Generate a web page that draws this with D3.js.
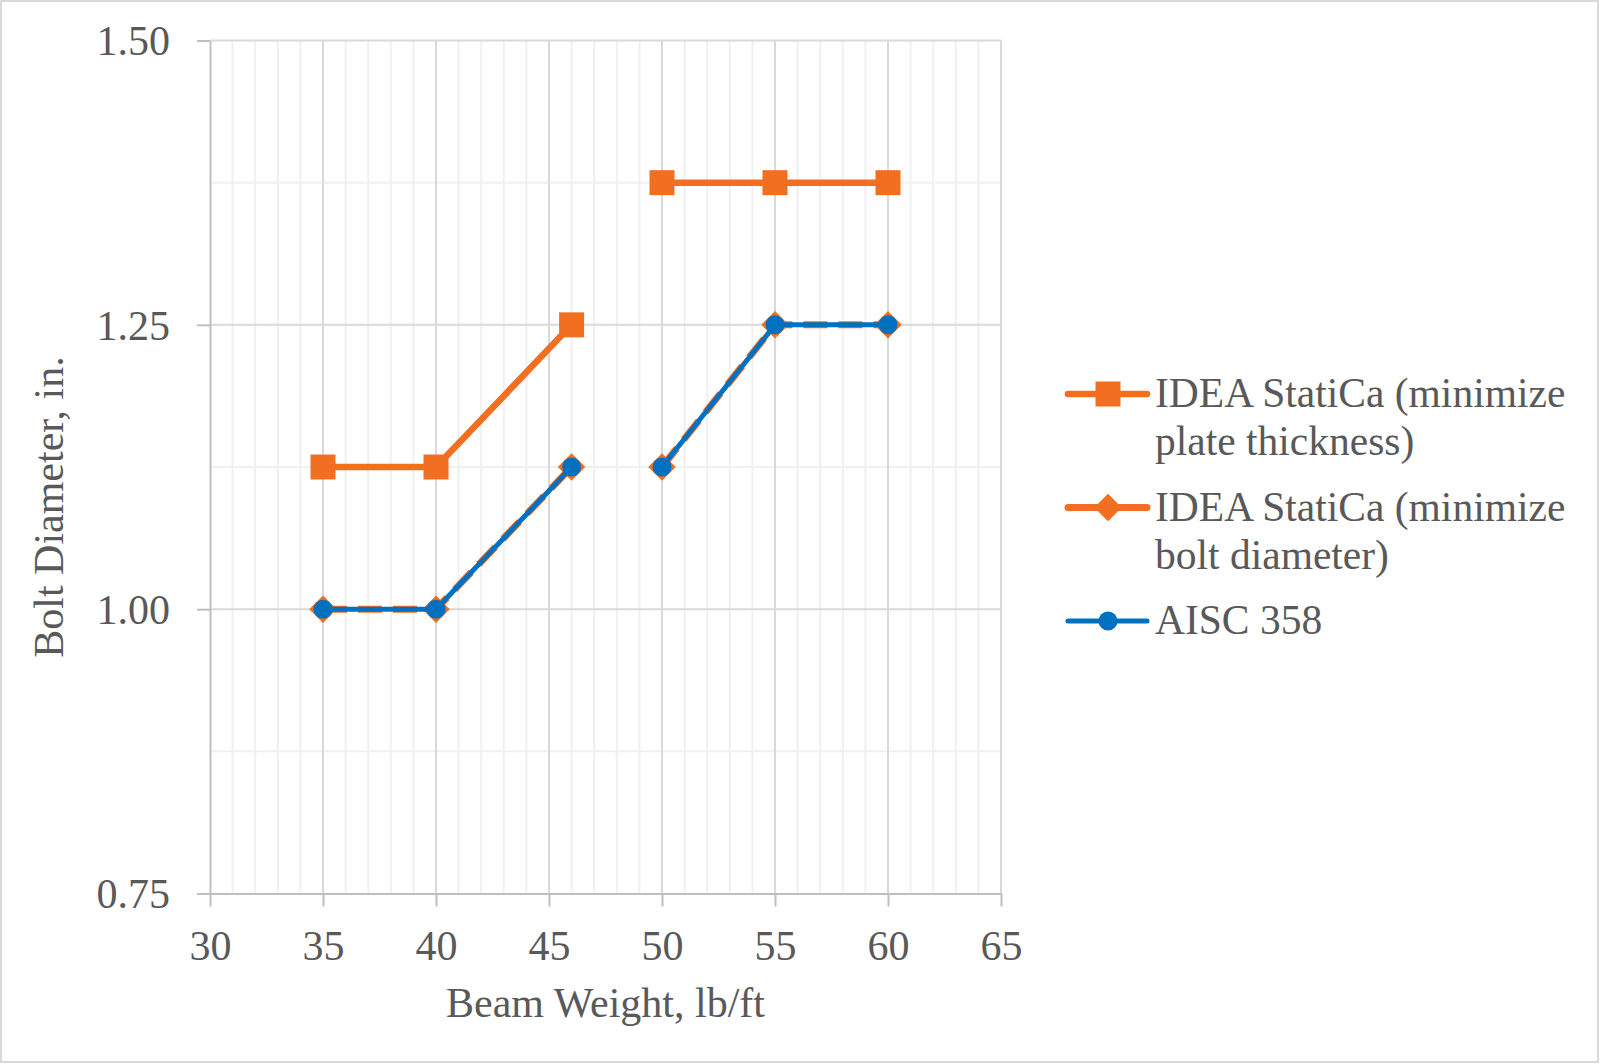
<!DOCTYPE html>
<html>
<head>
<meta charset="utf-8">
<script src="https://cdn.jsdelivr.net/npm/d3@7"></script>
<style>
  html, body { margin: 0; padding: 0; background: #fff; }
  svg { display: block; }
  text { font-family: "Liberation Serif", "DejaVu Serif", serif; fill: #595959; }
</style>
</head>
<body>
<div id="chart"></div>
<script>
// Plot constants
const WIDTH = 1600;
const HEIGHT = 1064;
const margin = {top: 40.5, right: 599, bottom: 170.5, left: 210};

// data (null = break in the line)
const beamWeight = [35, 40, 46, null, 50, 55, 60];
const minPlate = [1.125, 1.125, 1.25, null, 1.375, 1.375, 1.375];
const minBolt = [1.0, 1.0, 1.125, null, 1.125, 1.25, 1.25];
const aisc358 = [1.0, 1.0, 1.125, null, 1.125, 1.25, 1.25];

const xTicks = [30, 35, 40, 45, 50, 55, 60, 65];
const yTicks = [0.75, 1.0, 1.25, 1.5];
const seriesNames = [
  ["IDEA StatiCa (minimize", "plate thickness)"],
  ["IDEA StatiCa (minimize", "bolt diameter)"],
  ["AISC 358"],
];

const ORANGE = "#f26f22";
const BLUE = "#0070c0";

const svg = d3
  .select("#chart")
  .append("svg")
  .attr("width", WIDTH)
  .attr("height", HEIGHT);

// outer chart border
svg.append("rect")
  .attr("x", 1).attr("y", 1)
  .attr("width", WIDTH - 3).attr("height", HEIGHT - 3)
  .attr("fill", "#fff")
  .attr("stroke", "#d9d9d9")
  .attr("stroke-width", 2);

const w = WIDTH - margin.left - margin.right;
const h = HEIGHT - margin.top - margin.bottom;

const g = svg.append("g").attr("transform", `translate(${margin.left},${margin.top})`);

const x = d3.scaleLinear().domain([30, 65]).range([0, w]);
const y = d3.scaleLinear().domain([0.75, 1.5]).range([h, 0]);

// minor grid
const xMinor = d3.range(31, 65).filter((d) => d % 5 !== 0);
const yMinor = [0.875, 1.125, 1.375];
g.append("g").selectAll("line").data(xMinor).join("line")
  .attr("x1", (d) => x(d)).attr("x2", (d) => x(d))
  .attr("y1", 0).attr("y2", h)
  .attr("stroke", "#f0f0f0").attr("stroke-width", 2);
g.append("g").selectAll("line").data(yMinor).join("line")
  .attr("x1", 0).attr("x2", w)
  .attr("y1", (d) => y(d)).attr("y2", (d) => y(d))
  .attr("stroke", "#f0f0f0").attr("stroke-width", 2);

// major grid
g.append("g").selectAll("line").data(xTicks.slice(1)).join("line")
  .attr("x1", (d) => x(d)).attr("x2", (d) => x(d))
  .attr("y1", 0).attr("y2", h)
  .attr("stroke", "#d9d9d9").attr("stroke-width", 2);
g.append("g").selectAll("line").data(yTicks.slice(1)).join("line")
  .attr("x1", 0).attr("x2", w)
  .attr("y1", (d) => y(d)).attr("y2", (d) => y(d))
  .attr("stroke", "#d9d9d9").attr("stroke-width", 2);

// axes
const xAxis = d3.axisBottom(x).tickValues(xTicks).tickSize(13).tickPadding(24).tickSizeOuter(0);
const yAxis = d3.axisLeft(y).tickValues(yTicks).tickSize(13).tickPadding(27)
  .tickFormat(d3.format(".2f")).tickSizeOuter(0);

const gx = g.append("g").attr("transform", `translate(0,${h})`).call(xAxis);
const gy = g.append("g").call(yAxis);
[gx, gy].forEach((a) => {
  a.selectAll("path, line").attr("stroke", "#bfbfbf").attr("stroke-width", 2);
  a.selectAll("text").style("font-size", "42px").style("fill", "#595959")
    .style("font-family", '"Liberation Serif", "DejaVu Serif", serif');
});
gy.selectAll("text").attr("dy", "0.34em");

// axis titles
svg.append("text")
  .attr("x", margin.left + w / 2)
  .attr("y", 1017)
  .attr("text-anchor", "middle")
  .style("font-size", "42px")
  .text("Beam Weight, lb/ft");

svg.append("text")
  .attr("transform", `translate(63,${margin.top + h / 2 + 40}) rotate(-90)`)
  .attr("text-anchor", "middle")
  .style("font-size", "42px")
  .text("Bolt Diameter, in.");

// series
const pts = (vals) => beamWeight.map((bw, i) => ({x: bw, y: vals[i]}));
const line = d3.line()
  .defined((d) => d.x != null && d.y != null)
  .x((d) => x(d.x))
  .y((d) => y(d.y));

const series = [
  {vals: minPlate, color: ORANGE, width: 6.5, dash: null, marker: "square"},
  {vals: minBolt, color: ORANGE, width: 7, dash: "24,11", marker: "diamond"},
  {vals: aisc358, color: BLUE, width: 5, dash: null, marker: "circle"},
];

// diamond = square turned 45deg
const symbolFor = {
  square: {d: d3.symbol().type(d3.symbolSquare).size(25 * 25)(), rot: 0},
  diamond: {d: d3.symbol().type(d3.symbolSquare).size(19.5 * 19.5)(), rot: 45},
  circle: {d: d3.symbol().type(d3.symbolCircle).size(Math.PI * 9.5 * 9.5)(), rot: 0},
};

series.forEach((s) => {
  const data = pts(s.vals);
  const sym = symbolFor[s.marker];
  g.append("path")
    .datum(data)
    .attr("d", line)
    .attr("fill", "none")
    .attr("stroke", s.color)
    .attr("stroke-width", s.width)
    .attr("stroke-dasharray", s.dash)
    .attr("stroke-linejoin", "round");

  g.append("g").selectAll("path")
    .data(data.filter(line.defined()))
    .join("path")
    .attr("transform", (d) => `translate(${x(d.x)},${y(d.y)}) rotate(${sym.rot})`)
    .attr("d", sym.d)
    .attr("fill", s.color);
});

// legend
const legendRows = [394, 507.5, 621];
const legend = svg.append("g");
series.forEach((s, i) => {
  const sym = symbolFor[s.marker];
  const row = legend.append("g").attr("transform", `translate(0,${legendRows[i]})`);
  row.append("line")
    .attr("x1", 1068).attr("x2", 1147)
    .attr("y1", 0).attr("y2", 0)
    .attr("stroke", s.color)
    .attr("stroke-width", s.width)
    .attr("stroke-linecap", "round");
  row.append("path")
    .attr("transform", `translate(1108,0) rotate(${sym.rot})`)
    .attr("d", sym.d)
    .attr("fill", s.color);
  const t = row.append("text")
    .attr("x", 1155)
    .attr("y", 13)
    .style("font-size", "41.5px");
  seriesNames[i].forEach((ln, j) => {
    t.append("tspan").attr("x", 1155).attr("dy", j === 0 ? 0 : 48).text(ln);
  });
});
</script>
</body>
</html>
